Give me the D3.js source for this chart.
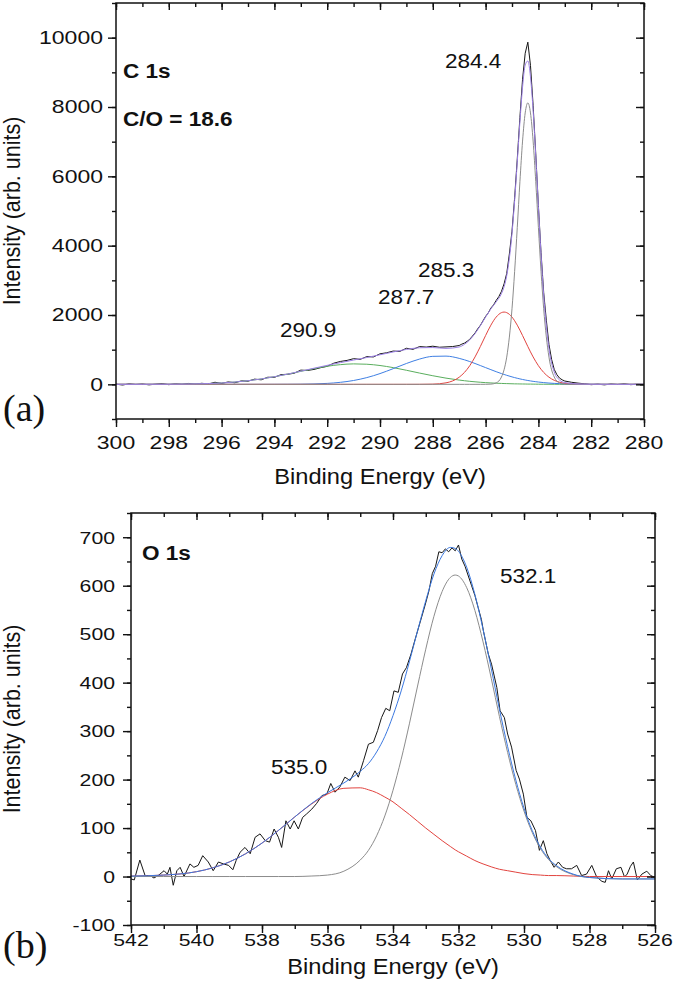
<!DOCTYPE html>
<html>
<head>
<meta charset="utf-8">
<script src="https://cdn.jsdelivr.net/npm/d3@7"></script>
<style>
body { margin: 0; background: #fff; }
svg { display: block; }
</style>
</head>
<body>
<div id="chart"></div>
<script>
// ---- C 1s panel (a) ----
var c1sXTicks = [300, 298, 296, 294, 292, 290, 288, 286, 284, 282, 280];
var c1sYTicks = [0, 2000, 4000, 6000, 8000, 10000];

// energy grid of the fitted curves
var c1sEnergy = [300, 299, 298, 297.5, 297, 296.5, 296, 295.5, 295, 294.5, 294, 293.5, 293, 292.5, 292, 291.5, 291, 290.5, 290, 289.5,
  289, 288.5, 288, 287.5, 287, 286.8, 286.6, 286.4, 286.2, 286.0, 285.8, 285.6, 285.4, 285.3, 285.2, 285.0, 284.9, 284.8, 284.7, 284.6,
  284.5, 284.4, 284.3, 284.2, 284.1, 284.0, 283.9, 283.8, 283.6, 283.4, 283.2, 283.0, 282.5, 282, 281, 280];
var c1sFit284 = [0, 0, 0, 0, 0, 0, 0, 0, 0, 0, 0, 0, 0, 0, 0, 0, 0, 0, 0, 0,
  0, 0, 0, 0, 0, 0, 0, 0, 0, 1, 6, 42, 211, 422, 785, 2180, 3259, 4526, 5846, 7017,
  7829, 8120, 7829, 7017, 5846, 4526, 3259, 2180, 785, 211, 42, 6, 0, 0, 0, 0];
var c1sFit285 = [0, 0, 0, 0, 0, 0, 0, 0, 0, 0, 0, 0, 0, 0, 0, 0, 0, 0, 0, 0,
  0, 1, 6, 43, 206, 344, 538, 791, 1090, 1408, 1707, 1940, 2068, 2085, 2068, 1940, 1834, 1707, 1563, 1408,
  1249, 1090, 936, 791, 658, 538, 434, 344, 206, 116, 61, 30, 4, 0, 0, 0];
var c1sFit287 = [0, 0, 0, 0, 0, 0, 0, 0, 0, 0, 1, 2, 5, 12, 27, 58, 111, 194, 310, 452,
  601, 729, 807, 814, 749, 707, 657, 601, 542, 482, 423, 365, 310, 285, 260, 215, 194, 175, 157, 140,
  125, 111, 98, 86, 76, 66, 58, 50, 37, 27, 20, 14, 6, 2, 0, 0];
var c1sFit290 = [0, 1, 3, 7, 13, 23, 40, 66, 104, 155, 219, 293, 374, 453, 521, 568, 590, 580, 543, 482,
  406, 325, 248, 179, 123, 104, 87, 73, 60, 49, 40, 32, 26, 23, 21, 16, 14, 13, 11, 10,
  9, 7, 7, 6, 5, 4, 3, 3, 2, 2, 1, 1, 0, 0, 0, 0];
var c1sEnvelope = [0, 1, 3, 7, 13, 23, 40, 66, 104, 155, 220, 295, 379, 465, 548, 626, 701, 774, 853, 934,
  1007, 1055, 1061, 1036, 1078, 1155, 1282, 1465, 1692, 1940, 2176, 2379, 2615, 2815, 3134, 4351, 5301, 6421, 7577, 8575,
  9212, 9328, 8870, 7900, 6585, 5134, 3754, 2577, 1030, 356, 124, 51, 10, 2, 0, 0];

// measured spectrum [binding energy, intensity]
var c1sRaw = [
  [300, 5], [299.75, -20], [299.5, 15], [299.25, -5], [299, 10], [298.75, -15], [298.5, 5], [298.25, 20], [298, -10], [297.75, 15],
  [297.5, 0], [297.25, 25], [297, 5], [296.75, 30], [296.5, 10], [296.25, 60], [296, 25], [295.75, 70], [295.5, 45], [295.25, 100],
  [295, 90], [294.75, 150], [294.5, 130], [294.25, 205], [294, 200], [293.75, 280], [293.5, 290], [293.25, 320], [293, 410], [292.75, 400],
  [292.5, 430], [292.25, 480], [292, 520], [291.75, 610], [291.5, 660], [291.25, 690], [291, 740], [290.75, 720], [290.5, 800], [290.25, 790],
  [290, 880], [289.75, 910], [289.5, 960], [289.25, 950], [289, 1040], [288.75, 1010], [288.5, 1090], [288.25, 1075], [288, 1100], [287.75, 1070],
  [287.5, 1080], [287.25, 1090], [287, 1120], [286.9, 1160], [286.8, 1190], [286.7, 1240], [286.6, 1300], [286.5, 1390], [286.4, 1480], [286.3, 1600],
  [286.2, 1700], [286.1, 1830], [286.0, 1960], [285.9, 2060], [285.8, 2200], [285.7, 2290], [285.6, 2420], [285.5, 2530], [285.4, 2680], [285.3, 2900],
  [285.2, 3200], [285.1, 3760], [285.0, 4420], [284.9, 5380], [284.8, 6500], [284.7, 7700], [284.6, 8800], [284.5, 9550], [284.4, 9870], [284.3, 9200],
  [284.2, 8050], [284.1, 6650], [284.0, 5150], [283.9, 3800], [283.8, 2650], [283.7, 1850], [283.6, 1150], [283.5, 720], [283.4, 430], [283.3, 280],
  [283.2, 180], [283.1, 130], [283.0, 95], [282.75, 60], [282.5, 35], [282.25, 15], [282, -10], [281.75, 5], [281.5, -15], [281.25, 10],
  [281, -5], [280.75, 15], [280.5, -10], [280.25, 5], [280, 0]
];

// ---- O 1s panel (b) ----
var o1sXTicks = [542, 540, 538, 536, 534, 532, 530, 528, 526];
var o1sYTicks = [-100, 0, 100, 200, 300, 400, 500, 600, 700];

var o1sEnergy = [542, 541, 540, 539.5, 539, 538.5, 538, 537.5, 537, 536.5, 536, 535.5, 535, 534.75, 534.5, 534.25, 534, 533.75, 533.5, 533.25,
  533, 532.75, 532.5, 532.25, 532.1, 532, 531.75, 531.5, 531.25, 531, 530.75, 530.5, 530.25, 530, 529.75, 529.5, 529.25, 529, 528.5, 528,
  527, 526];
var o1sFit532 = [0, 0, 0, 0, 0, 0, 0, 0, 0, 1, 3, 11, 34, 54, 84, 125, 178, 242, 315, 393,
  469, 537, 588, 617, 622, 620, 596, 549, 484, 409, 330, 256, 190, 135, 91, 58, 35, 20, 4, -2,
  -5, -5];
var o1sFit535 = [1, 3, 10, 18, 30, 47, 69, 95, 123, 149, 170, 182, 183, 179, 173, 164, 154, 141, 128, 114,
  100, 87, 74, 62, 55, 51, 42, 33, 26, 20, 15, 12, 9, 6, 4, 3, 2, 2, 1, 0,
  0, 0];
var o1sEnvelope = [1, 3, 10, 18, 30, 47, 69, 95, 123, 150, 173, 193, 217, 233, 257, 289, 332, 383, 443, 507,
  569, 624, 662, 679, 677, 671, 638, 582, 510, 429, 345, 268, 199, 141, 95, 61, 37, 22, 5, -2,
  -5, -5];

var o1sRaw = [
  [542.0, -5], [541.9, -7], [541.73, 34], [541.57, 2], [541.42, 2], [541.3, -3], [541.17, 2], [540.99, 12], [540.89, 5], [540.81, 19],
  [540.71, -18], [540.6, 12], [540.5, 19], [540.38, 0], [540.2, 26], [540.08, 19], [539.95, 23], [539.81, 43], [539.64, 30], [539.49, 12],
  [539.33, 30], [539.18, 26], [539.02, 23], [538.89, 14], [538.79, 33], [538.67, 50], [538.52, 60], [538.36, 47], [538.21, 81], [538.06, 88],
  [537.9, 74], [537.77, 71], [537.63, 98], [537.5, 81], [537.4, 60], [537.27, 115], [537.14, 98], [537.02, 115], [536.89, 98], [536.76, 122],
  [536.64, 129], [536.48, 139], [536.33, 151], [536.17, 167], [536.02, 170], [535.9, 192], [535.77, 174], [535.62, 185], [535.47, 205], [535.31, 198],
  [535.16, 218], [535.06, 205], [534.9, 239], [534.75, 273], [534.6, 277], [534.47, 301], [534.35, 328], [534.22, 347], [534.1, 342], [533.97, 383],
  [533.84, 380], [533.71, 418], [533.59, 431], [533.45, 459], [533.33, 488], [533.17, 525], [533.02, 560], [532.9, 590], [532.8, 625], [532.7, 640],
  [532.6, 670], [532.5, 668], [532.4, 676], [532.3, 670], [532.2, 678], [532.1, 672], [532.0, 684], [531.9, 655], [531.8, 640], [531.7, 620],
  [531.6, 600], [531.5, 580], [531.4, 555], [531.3, 530], [531.24, 507], [531.09, 459], [530.99, 438], [530.83, 390], [530.73, 342], [530.6, 328],
  [530.5, 294], [530.38, 267], [530.24, 219], [530.14, 201], [530.02, 170], [529.91, 122], [529.79, 115], [529.65, 95], [529.53, 54], [529.41, 74],
  [529.3, 47], [529.2, 33], [529.08, 19], [528.95, 30], [528.82, 19], [528.7, 16], [528.55, 16], [528.39, 23], [528.24, 2], [528.09, 5],
  [527.93, 23], [527.78, -1], [527.62, -10], [527.52, -12], [527.42, 12], [527.32, -5], [527.18, 16], [527.04, 19], [526.93, -1], [526.85, 5],
  [526.75, 21], [526.66, 30], [526.54, -7], [526.4, 5], [526.25, 11], [526.13, 2], [526.03, -1]
];

var W = 674, H = 998;
var SX = 1.1;          // the figure is a bit wider than tall, text is stretched
var SANS = "'Liberation Sans', Arial, Helvetica, sans-serif";
var SERIF = "'Liberation Serif', 'Times New Roman', serif";

var svg = d3.select("#chart").append("svg")
  .attr("width", W)
  .attr("height", H)
  .style("background", "#fff");

function label(g, x, y, txt, o) {
  o = o || {};
  var t = "translate(" + x + "," + y + ") scale(" + (o.sx || SX) + ",1)";
  if (o.rotate) t += " rotate(" + o.rotate + ")";
  return g.append("text")
    .attr("transform", t)
    .attr("text-anchor", o.anchor || "start")
    .attr("font-family", o.family || SANS)
    .attr("font-size", o.size || 18.5)
    .attr("font-weight", o.weight || "normal")
    .attr("fill", "#111")
    .text(txt);
}

function zip(xs, ys) {
  return xs.map(function(e, i) { return [e, ys[i]]; });
}

function drawPanel(p) {
  var x = d3.scaleLinear().domain(p.xDomain).range([p.left, p.right]);
  var y = d3.scaleLinear().domain(p.yDomain).range([p.bottom, p.top]);
  var g = svg.append("g");

  g.append("clipPath").attr("id", p.id + "clip")
    .append("rect")
    .attr("x", p.left).attr("y", p.top)
    .attr("width", p.right - p.left).attr("height", p.bottom - p.top);

  var plot = g.append("g").attr("clip-path", "url(#" + p.id + "clip)");

  p.series.forEach(function(s) {
    var line = d3.line()
      .x(function(d) { return x(d[0]); })
      .y(function(d) { return y(d[1]); })
      .curve(s.smooth ? d3.curveMonotoneX : d3.curveLinear);
    plot.append("path")
      .datum(s.points)
      .attr("d", line)
      .attr("fill", "none")
      .attr("stroke", s.color)
      .attr("stroke-width", s.width || 1)
      .attr("stroke-linejoin", "round");
  });

  // ticks: bottom/left point out, top/right point in
  function axis(a, tf) {
    var ax = g.append("g").attr("transform", tf).call(a);
    ax.select(".domain").remove();
    ax.selectAll("line").attr("stroke", "#111").attr("stroke-width", 1.4);
  }
  var xMinor = d3.range(p.xDomain[1], p.xDomain[0] + 0.5, 1);
  var yMinor = d3.range(p.yDomain[0], p.yDomain[1] + 1, p.yMinorStep);

  axis(d3.axisBottom(x).tickValues(p.xTicks).tickSize(8).tickFormat(""), "translate(0," + p.bottom + ")");
  axis(d3.axisBottom(x).tickValues(xMinor).tickSize(4).tickFormat(""), "translate(0," + p.bottom + ")");
  axis(d3.axisTop(x).tickValues(p.xTicks).tickSize(-7).tickFormat(""), "translate(0," + p.top + ")");
  axis(d3.axisTop(x).tickValues(xMinor).tickSize(-4).tickFormat(""), "translate(0," + p.top + ")");
  axis(d3.axisLeft(y).tickValues(p.yTicks).tickSize(8).tickFormat(""), "translate(" + p.left + ",0)");
  axis(d3.axisLeft(y).tickValues(yMinor).tickSize(4).tickFormat(""), "translate(" + p.left + ",0)");
  axis(d3.axisRight(y).tickValues(p.yTicks).tickSize(-8).tickFormat(""), "translate(" + p.right + ",0)");
  axis(d3.axisRight(y).tickValues(yMinor).tickSize(-4).tickFormat(""), "translate(" + p.right + ",0)");

  g.append("rect")
    .attr("x", p.left).attr("y", p.top)
    .attr("width", p.right - p.left).attr("height", p.bottom - p.top)
    .attr("fill", "none").attr("stroke", "#111").attr("stroke-width", 1.5);

  var tk = { size: p.tickFont, sx: p.tickSx };
  p.xTicks.forEach(function(v) {
    label(g, x(v), p.bottom + p.xLabelDy, v, { anchor: "middle", size: tk.size, sx: tk.sx });
  });
  p.yTicks.forEach(function(v) {
    label(g, p.left - p.yLabelDx, y(v) + 6.3, v, { anchor: "end", size: tk.size, sx: tk.sx });
  });

  label(g, (p.left + p.right) / 2, p.titleY, "Binding Energy (eV)", { anchor: "middle", size: 21.5 });
  label(g, 20, (p.top + p.bottom) / 2, "Intensity (arb. units)", { anchor: "middle", size: 21.5, rotate: -90 });
  label(g, 3, p.tagY, p.tag, { family: SERIF, size: 38, sx: 1 });

  p.notes.forEach(function(n) {
    label(g, n[0], n[1], n[2], { size: n[3] || 20.5, weight: n[4] || "normal" });
  });
}

drawPanel({
  id: "c1s",
  left: 116, right: 644, top: 3, bottom: 419,
  xDomain: [300, 280], yDomain: [-1000, 11000],
  xTicks: c1sXTicks, yTicks: c1sYTicks, yMinorStep: 1000,
  tickFont: 17.7, tickSx: 1.3,
  xLabelDy: 29.5, yLabelDx: 13,
  titleY: 484, tag: "(a)", tagY: 421,
  series: [
    { points: c1sRaw, color: "#161616" },
    { points: zip(c1sEnergy, c1sFit290), color: "#5aae5e", smooth: true },
    { points: zip(c1sEnergy, c1sFit287), color: "#3f7fe3", smooth: true },
    { points: zip(c1sEnergy, c1sFit285), color: "#e2443f", smooth: true },
    { points: zip(c1sEnergy, c1sFit284), color: "#8c8c8c", smooth: true },
    { points: zip(c1sEnergy, c1sEnvelope), color: "#9b7fe4", smooth: true }
  ],
  notes: [
    [123, 78, "C 1s", 20.5, "bold"],
    [123, 126, "C/O = 18.6", 20.5, "bold"],
    [445, 68, "284.4"],
    [418, 277, "285.3"],
    [378, 304, "287.7"],
    [280, 337, "290.9"]
  ]
});

drawPanel({
  id: "o1s",
  left: 131, right: 655, top: 513, bottom: 925,
  xDomain: [542, 526], yDomain: [-100, 750],
  xTicks: o1sXTicks, yTicks: o1sYTicks, yMinorStep: 50,
  tickFont: 17.4, tickSx: 1.22,
  xLabelDy: 20.5, yLabelDx: 16,
  titleY: 974, tag: "(b)", tagY: 958,
  series: [
    { points: o1sRaw, color: "#161616" },
    { points: zip(o1sEnergy, o1sFit535), color: "#e2443f", smooth: true },
    { points: zip(o1sEnergy, o1sFit532), color: "#8c8c8c", smooth: true },
    { points: zip(o1sEnergy, o1sEnvelope), color: "#3b78e0", smooth: true }
  ],
  notes: [
    [142, 560, "O 1s", 20.5, "bold"],
    [500, 583, "532.1"],
    [271, 774, "535.0"]
  ]
});
</script>
</body>
</html>
